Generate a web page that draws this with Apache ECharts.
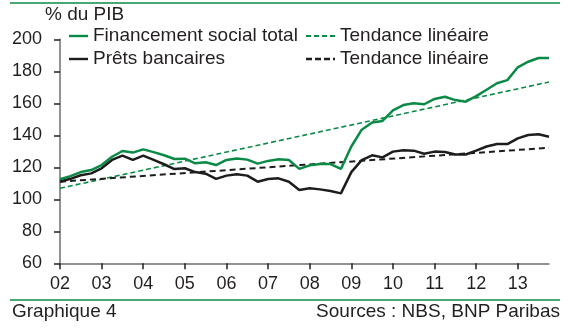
<!DOCTYPE html>
<html>
<head>
<meta charset="utf-8">
<script src="https://cdn.jsdelivr.net/npm/echarts@6/dist/echarts.min.js"></script>
<style>
html,body{margin:0;padding:0;background:#fff;}
#chart{width:574px;height:328px;}
</style>
</head>
<body>
<div id="chart"></div>
<script>
// Quarterly categories 2002Q1 .. 2013Q4
const years = ['2002','2003','2004','2005','2006','2007','2008','2009','2010','2011','2012','2013'];
const quarters = [];
years.forEach(y => { for (let q = 1; q <= 4; q++) quarters.push(y + 'T' + q); });

const tickLabels = ['02','03','04','05','06','07','08','09','10','11','12','13'];

// Financement social total (% du PIB)
const fstValues = [
  112.5, 114.5, 117.0, 118.3,
  121.4, 126.6, 130.2, 129.2,
  131.2, 129.5, 127.5, 125.2,
  125.4, 122.5, 123.2, 121.4,
  124.6, 125.5, 124.8, 122.3,
  124.0, 125.0, 124.6, 119.0,
  121.2, 122.0, 122.0, 119.0,
  133.0, 143.5, 148.0, 149.0,
  155.6, 158.9, 160.0, 159.4,
  162.7, 164.1, 162.0, 161.0,
  164.5, 168.5, 172.5, 174.5,
  182.5, 186.0, 188.3, 188.3
];

// Prêts bancaires (% du PIB)
const loanValues = [
  111.0, 112.8, 115.0, 116.2,
  119.4, 124.6, 127.3, 124.6,
  127.3, 124.6, 121.9, 118.9,
  119.4, 117.0, 116.0, 112.8,
  114.8, 115.6, 114.8, 111.0,
  112.7, 113.1, 111.0, 105.8,
  106.9, 106.2, 105.2, 103.7,
  117.0, 124.5, 127.5, 126.2,
  129.8, 130.6, 130.4, 128.5,
  129.8, 129.6, 128.0, 128.0,
  130.4, 133.0, 134.6, 134.5,
  138.1, 140.2, 140.6, 139.1
];

// Linear trends: start and end values
const fstTrendEnds = [106.9, 173.3];
const loanTrendEnds = [111.0, 132.2];

const GREEN = '#0b8a46';
const BLACK = '#1d1d1b';
const TXT = '#231f20';
const FONT = 'Liberation Sans, Arial, sans-serif';

const last = quarters.length - 1;
const trendData = ends => [[0, ends[0]], [last, ends[1]]];

const SOLID_ICON = 'path://M0,0H19V2.4H0Z';
const DASH_ICON_G = 'path://M0,0H5V2H0Z M8,0H13V2H8Z M16,0H21V2H16Z M24,0H29V2H24Z';
const DASH_ICON_B = 'path://M0,0H6V2.4H0Z M9,0H15V2.4H9Z M18,0H24V2.4H18Z M27,0H29V2.4H27Z';

const chart = echarts.init(document.getElementById('chart'), null, {renderer: 'canvas'});

const legendBase = (name, left, top, icon, w, h) => ({
  data: [{name: name, icon: icon}],
  left: left, top: top,
  padding: 0,
  itemWidth: w, itemHeight: h,
  selectedMode: false,
  textStyle: {fontFamily: FONT, fontSize: 19, color: TXT, lineHeight: 20},
  formatter: n => (n.indexOf('trend') === 0 ? 'Tendance linéaire' : n)
});

chart.setOption({
  animation: false,
  backgroundColor: '#fff',
  grid: {left: 60, right: 25, top: 39.3, bottom: 64.7, containLabel: false},
  legend: [
    legendBase('Financement social total', 69, 26, SOLID_ICON, 19, 2.4),
    legendBase('trendFST', 306, 26, DASH_ICON_G, 29, 2),
    legendBase('Prêts bancaires', 69, 49, SOLID_ICON, 19, 2.4),
    legendBase('trendLoan', 306, 49, DASH_ICON_B, 29, 2.4)
  ],
  xAxis: {
    type: 'category',
    data: quarters,
    boundaryGap: false,
    axisLine: {lineStyle: {color: '#6d6e70', width: 1.5}},
    axisTick: {show: true, inside: false, length: 6, interval: 3, lineStyle: {color: '#231f20', width: 1.5}},
    axisLabel: {
      interval: 3, margin: 12,
      fontFamily: FONT, fontSize: 18, color: TXT,
      formatter: (v, i) => tickLabels[Math.floor(i / 4)]
    },
    splitLine: {show: false}
  },
  yAxis: {
    type: 'value',
    min: 60, max: 200, interval: 20,
    axisLine: {show: true, lineStyle: {color: '#6d6e70', width: 1.5}},
    axisTick: {show: true, inside: false, length: 6, lineStyle: {color: '#231f20', width: 1.5}},
    axisLabel: {margin: 18, fontFamily: FONT, fontSize: 18, color: TXT},
    splitLine: {show: false}
  },
  series: [
    {
      name: 'trendFST', type: 'line', symbol: 'none',
      data: trendData(fstTrendEnds),
      lineStyle: {color: GREEN, width: 1.6, type: [5, 3]},
      itemStyle: {color: GREEN}, z: 3
    },
    {
      name: 'trendLoan', type: 'line', symbol: 'none',
      data: trendData(loanTrendEnds),
      lineStyle: {color: BLACK, width: 2, type: [6, 4]},
      itemStyle: {color: BLACK}, z: 3
    },
    {
      name: 'Financement social total', type: 'line', symbol: 'none',
      data: fstValues,
      lineStyle: {color: GREEN, width: 2.5},
      itemStyle: {color: GREEN}, z: 4
    },
    {
      name: 'Prêts bancaires', type: 'line', symbol: 'none',
      data: loanValues,
      lineStyle: {color: BLACK, width: 2.5},
      itemStyle: {color: BLACK}, z: 4
    }
  ],
  graphic: [
    {type: 'line', shape: {x1: 10, y1: 3, x2: 560, y2: 3}, style: {stroke: GREEN, lineWidth: 1.5}},
    {type: 'line', shape: {x1: 10, y1: 300, x2: 560, y2: 300}, style: {stroke: GREEN, lineWidth: 1.5}},
    {type: 'text', x: 45, y: 15, style: {text: '% du PIB', font: '19px ' + FONT, fill: TXT, textVerticalAlign: 'middle'}},
    {type: 'text', x: 12, y: 312, style: {text: 'Graphique 4', font: '19px ' + FONT, fill: TXT, textVerticalAlign: 'middle'}},
    {type: 'text', x: 560, y: 312, style: {text: 'Sources : NBS, BNP Paribas', font: '19px ' + FONT, fill: TXT, textAlign: 'right', textVerticalAlign: 'middle'}}
  ]
});
</script>
</body>
</html>
